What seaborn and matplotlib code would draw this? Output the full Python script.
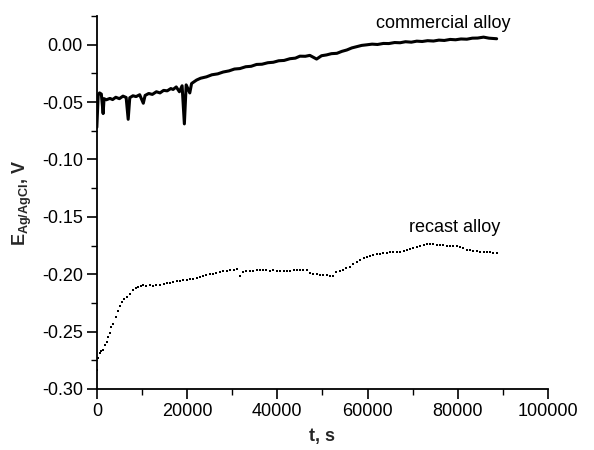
import numpy as np
import pandas as pd
import matplotlib
matplotlib.use("Agg")
import matplotlib.pyplot as plt
import seaborn as sns
from matplotlib.ticker import MultipleLocator

# ---- data ----
commercial_t = [0, 300, 600, 1000, 1400, 1600, 2100, 2900, 3500, 4200, 5000, 5800, 6500, 6950, 7300,
                8000, 8700, 9500, 10300, 10700, 11500, 12300, 13200, 14000, 14800, 15600, 16400, 16900,
                17600, 18300, 18900, 19400, 19800, 20600, 21000, 22100, 23000, 24300, 25500, 26800,
                28000, 29300, 30500, 31700, 33000, 34200, 35400, 36600, 37900, 39100, 40300, 41500,
                42800, 44000, 45000, 46200, 47200, 48000, 48700, 49800, 50900, 52000, 53200, 54300,
                55400, 56500, 57600, 58700, 59800, 61000, 62200, 63500, 64700, 66000, 67200, 68400,
                69700, 70900, 72100, 73300, 74600, 75800, 77000, 78300, 79500, 80700, 82000, 83200,
                84400, 85700, 86900, 88600]
commercial_E = [-0.072, -0.044, -0.042, -0.043, -0.060, -0.047, -0.048, -0.0468, -0.0478, -0.0458,
                -0.0470, -0.0448, -0.0460, -0.065, -0.0462, -0.0445, -0.0452, -0.0436, -0.051, -0.0442,
                -0.0425, -0.0433, -0.0410, -0.0420, -0.0398, -0.0402, -0.0382, -0.0390, -0.0368,
                -0.041, -0.0358, -0.069, -0.0350, -0.042, -0.0338, -0.0308, -0.0292, -0.0280, -0.0262,
                -0.0254, -0.0238, -0.0228, -0.0212, -0.0208, -0.0192, -0.0188, -0.0172, -0.0170,
                -0.0157, -0.0153, -0.0140, -0.0137, -0.0122, -0.0117, -0.0100, -0.0101, -0.0093,
                -0.0110, -0.0125, -0.0096, -0.0089, -0.0078, -0.0075, -0.0058, -0.0046, -0.0028,
                -0.0017, -0.0006, -0.0001, 0.0005, 0.0002, 0.0011, 0.0010, 0.0019, 0.0017, 0.0026,
                0.0022, 0.0031, 0.0028, 0.0035, 0.0032, 0.0040, 0.0037, 0.0046, 0.0043, 0.0050,
                0.0048, 0.0057, 0.0058, 0.0066, 0.0057, 0.0052]

recast_t = [150, 300, 660, 1000, 1400, 1800, 2150, 2500, 2900, 3250, 3600, 4200, 4700, 5100, 5500,
            6000, 6600, 7300, 8050, 8600, 9200, 9800, 10300, 11000, 11700, 12400, 13200, 14000,
            14800, 15500, 16200, 16900, 17700, 18400, 19200, 19900, 20600, 21400, 22100, 22900,
            23600, 24300, 25000, 25800, 26500, 27300, 28000, 28800, 29500, 30300, 31000, 31700,
            32400, 33100, 33900, 34600, 35400, 36100, 36900, 37600, 38400, 39100, 39900, 40600,
            41400, 42100, 42800, 43600, 44300, 45000, 45800, 46500, 47200, 48000, 48700, 49500,
            50200, 50900, 51700, 52400, 53100, 53800, 54600, 55300, 56100, 56800, 57600, 58300,
            59100, 59800, 60500, 61300, 62000, 62800, 63500, 64300, 65000, 65700, 66500, 67200,
            68000, 68700, 69400, 70100, 70900, 71600, 72400, 73100, 73900, 74600, 75400, 76100,
            76800, 77600, 78300, 79000, 79800, 80500, 81200, 82000, 82700, 83400, 84200, 84900,
            85700, 86400, 87200, 87900, 88600]
recast_E = [-0.2836, -0.273, -0.269, -0.267, -0.266, -0.262, -0.259, -0.255, -0.2515, -0.246, -0.243,
            -0.237, -0.232, -0.228, -0.224, -0.222, -0.220, -0.217, -0.2138, -0.212, -0.211, -0.2105,
            -0.2095, -0.2100, -0.2095, -0.2100, -0.2095, -0.2090, -0.2085, -0.2080, -0.2075, -0.2066,
            -0.2060, -0.2055, -0.2050, -0.2048, -0.2045, -0.2040, -0.2030, -0.2025, -0.2015, -0.2010,
            -0.2000, -0.1995, -0.1986, -0.1980, -0.1975, -0.1970, -0.1965, -0.1960, -0.1956, -0.2015,
            -0.1978, -0.1975, -0.1970, -0.1968, -0.1965, -0.1966, -0.1963, -0.1965, -0.1968, -0.1966,
            -0.1970, -0.1968, -0.1970, -0.1968, -0.1970, -0.1966, -0.1965, -0.1963, -0.1965, -0.1966,
            -0.1985, -0.1998, -0.2000, -0.2005, -0.2010, -0.2008, -0.2012, -0.2015, -0.1980, -0.1975,
            -0.1965, -0.1950, -0.1933, -0.1915, -0.1895, -0.1875, -0.1860, -0.1846, -0.1840, -0.1832,
            -0.1828, -0.1822, -0.1817, -0.1814, -0.1810, -0.1808, -0.1805, -0.1803, -0.1795, -0.1787,
            -0.1780, -0.1773, -0.1765, -0.1755, -0.1745, -0.1736, -0.1738, -0.1740, -0.1742, -0.1743,
            -0.1745, -0.1750, -0.1752, -0.1755, -0.1758, -0.1760, -0.1775, -0.1785, -0.1790, -0.1795,
            -0.1800, -0.1802, -0.1803, -0.1808, -0.1810, -0.1815, -0.1817]

x_label = "t, s"
y_label = r"$\mathbf{E_{Ag/AgCl}}$, V"
labels = ["commercial alloy", "recast alloy"]

# ---- style ----
sns.set_theme(style="ticks")
plt.rcParams["font.family"] = ["Liberation Sans", "DejaVu Sans"]
plt.rcParams["mathtext.fontset"] = "custom"
plt.rcParams["mathtext.rm"] = "Liberation Sans"
plt.rcParams["mathtext.bf"] = "Liberation Sans:bold"
plt.rcParams["mathtext.it"] = "Liberation Sans:italic"

df_c = pd.DataFrame({"t": commercial_t, "E": commercial_E})
df_r = pd.DataFrame({"t": recast_t, "E": recast_E})

fig = plt.figure(figsize=(5.94, 4.5), dpi=100)
ax = fig.add_axes([0.163, 0.1356, 0.7597, 0.8288])

sns.lineplot(data=df_c, x="t", y="E", ax=ax, color="black", linewidth=2.2, sort=False)
sns.scatterplot(data=df_r, x="t", y="E", ax=ax, color="black", s=2.5, marker="s",
                linewidth=0)

ax.set_xlim(0, 100000)
ax.set_ylim(-0.30, 0.025)
ax.xaxis.set_major_locator(MultipleLocator(20000))
ax.xaxis.set_minor_locator(MultipleLocator(10000))
ax.yaxis.set_major_locator(MultipleLocator(0.05))
ax.yaxis.set_minor_locator(MultipleLocator(0.025))
ax.yaxis.set_major_formatter(matplotlib.ticker.FormatStrFormatter("%.2f"))

for s in ["top", "right"]:
    ax.spines[s].set_visible(False)
for s in ["left", "bottom"]:
    ax.spines[s].set_linewidth(1.3)
    ax.spines[s].set_color("black")

ax.tick_params(which="major", direction="out", length=7, width=1.2, labelsize=13,
               colors="black", pad=3)
ax.tick_params(which="minor", direction="out", length=4, width=1.0, colors="black")

ax.set_xlabel(x_label, fontsize=13, fontweight="bold", labelpad=6)
ax.set_ylabel(y_label, fontsize=13, fontweight="bold", labelpad=6)

ax.text(76700, 0.0183, labels[0], fontsize=13, ha="center", va="center", color="black")
ax.text(79400, -0.159, labels[1], fontsize=13, ha="center", va="center", color="black")

fig.savefig("out.png", dpi=100)
